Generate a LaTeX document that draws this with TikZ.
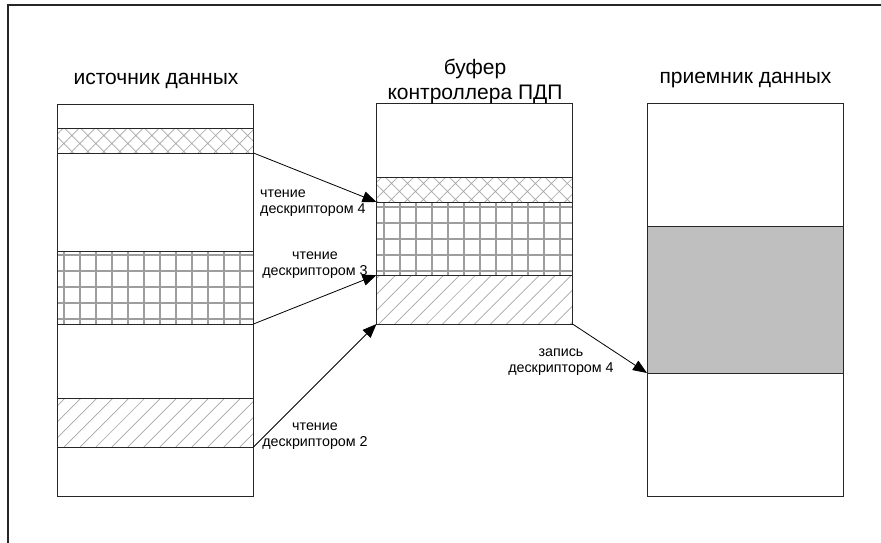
\documentclass[tikz,border=0pt]{standalone}
\usepackage{fontspec}
\setmainfont{Liberation Sans}
\usetikzlibrary{patterns.meta,arrows.meta}
\begin{document}
\begin{tikzpicture}[x=1pt,y=-1pt,
  band/.style={draw=black!85,line width=1pt,rectangle,inner sep=0pt,outer sep=0pt,minimum width=196pt,anchor=north west},
  plain/.style={band,fill=white},
  xhatch/.style={band,pattern={Hatch[angle=45,distance=11.3pt,line width=0.7pt]},pattern color=black!35},
  gridpat/.style={band,pattern={Hatch[angle=0,distance=16pt,line width=1.3pt]},pattern color=black!38},
  diag/.style={band,pattern={Lines[angle=45,distance=11.3pt,line width=0.7pt]},pattern color=black!35},
  shaded/.style={band,fill=black!25},
  conn/.style={draw=black,line width=0.8pt,-{Triangle[length=14pt,width=11pt]}},
  title/.style={font=\fontsize{21}{25}\selectfont,align=center,inner sep=0pt},
  lab/.style={font=\fontsize{14.3}{16.5}\selectfont,inner sep=0pt}
]
\useasboundingbox[fill=white] (0,0) rectangle (881,543);
\draw[line width=1.3pt,black!85] (8,543) -- (8,5) -- (881,5);

% source
\node[plain,minimum height=24pt] (s1) at (57.5,104) {};
\node[xhatch,minimum height=25pt] (s4) at (57.5,128) {};
\node[plain,minimum height=98pt] (s5) at (57.5,153) {};
\node[gridpat,minimum height=73pt] (s3) at (57.5,251) {};
\node[plain,minimum height=74pt] (s6) at (57.5,324) {};
\node[diag,minimum height=49pt] (s2) at (57.5,398) {};
\node[plain,minimum height=49pt] (s7) at (57.5,447) {};

% buffer
\node[plain,minimum height=74pt] (b1) at (376.5,103) {};
\node[xhatch,minimum height=25pt] (b4) at (376.5,177) {};
\node[gridpat,minimum height=73pt] (b3) at (376.5,202) {};
\node[diag,minimum height=49pt] (b2) at (376.5,275) {};

% receiver
\node[plain,minimum height=123pt] (r1) at (647,103) {};
\node[shaded,minimum height=147pt] (r2) at (647,226) {};
\node[plain,minimum height=123pt] (r3) at (647,373) {};

% titles
\node[title] (t1) at (156,81) {источник данных};
\node[title] (t2) at (475,81) {буфер\\контроллера ПДП};
\node[title] (t3) at (745.5,80) {приемник данных};

% connectors
\draw[conn] (s4.south east) -- (b4.south west);
\draw[conn] (s3.south east) -- (b3.south west);
\draw[conn] (s2.south east) -- (b2.south west);
\draw[conn] (b2.south east) -- (r2.south west);

% labels
\node[lab,align=left,anchor=west] (l4) at (260,203) {чтение\\дескриптором 4};
\node[lab,align=center] (l3) at (315,265) {чтение\\дескриптором 3};
\node[lab,align=center] (l2) at (315,436) {чтение\\дескриптором 2};
\node[lab,align=center] (lw) at (561,362) {запись\\дескриптором 4};
\end{tikzpicture}
\end{document}
